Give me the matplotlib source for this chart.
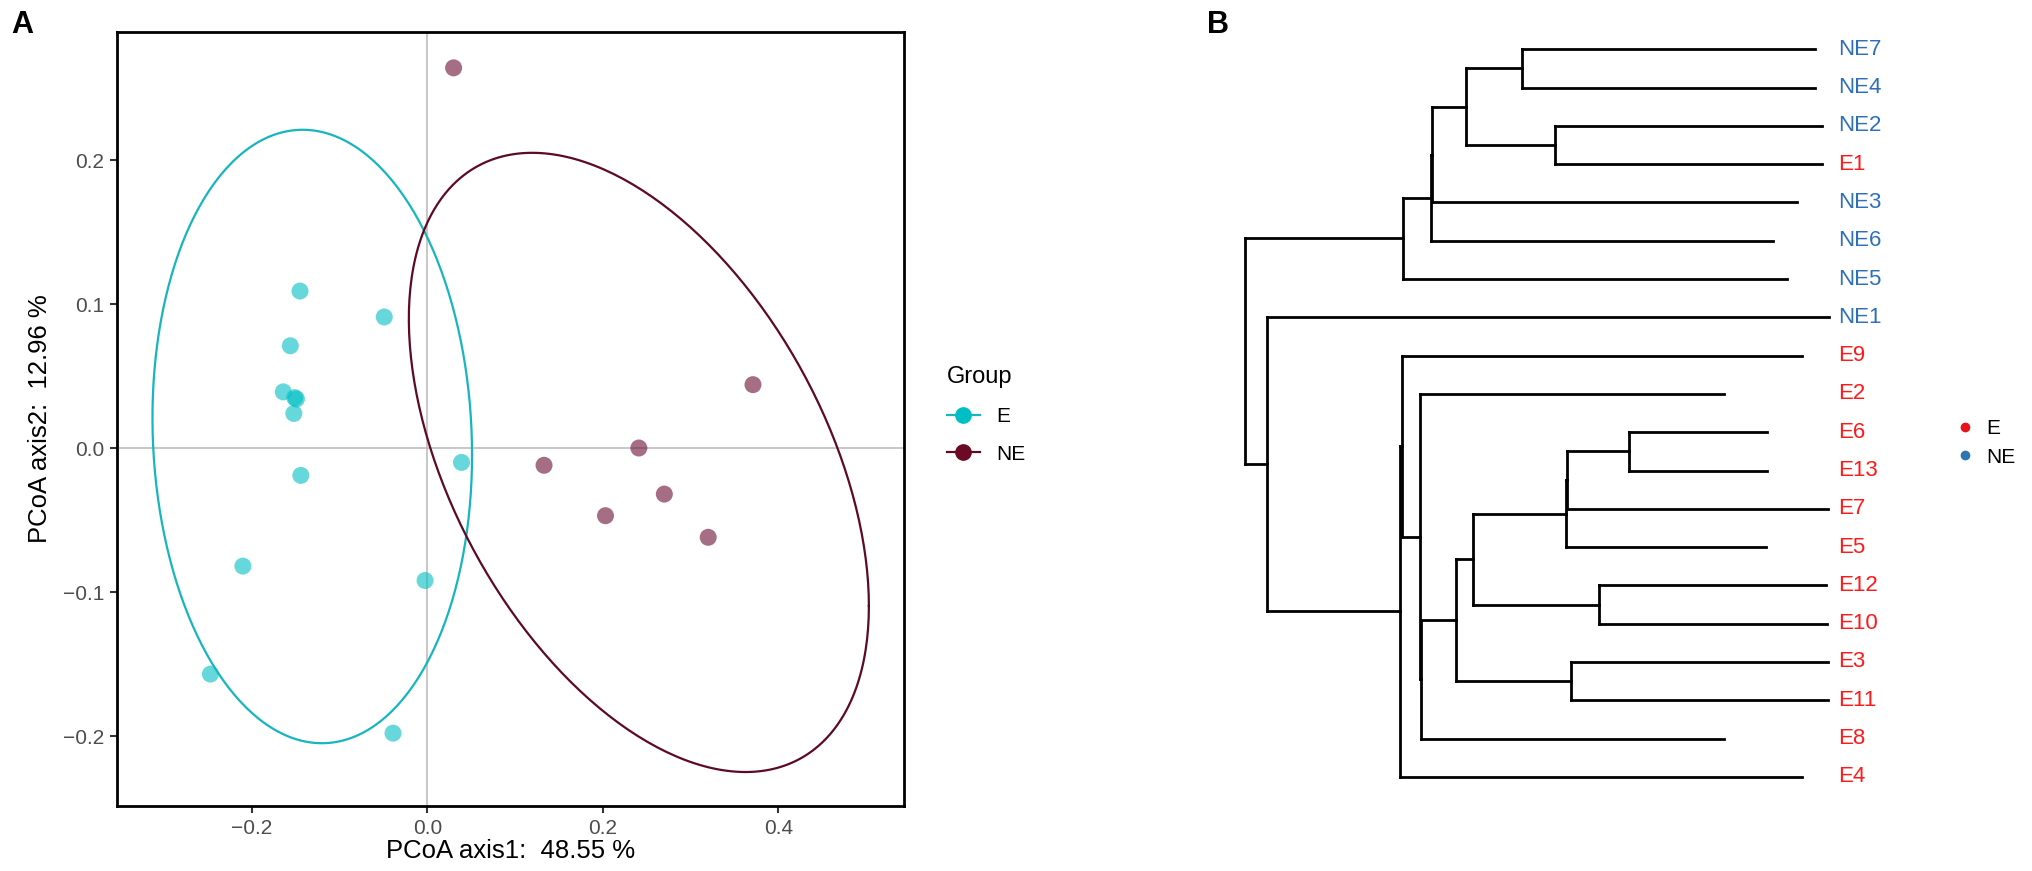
import numpy as np
import matplotlib
matplotlib.use("Agg")
import matplotlib.pyplot as plt
from matplotlib.lines import Line2D

plt.rcParams['font.family'] = ['Liberation Sans', 'DejaVu Sans']

# ---- panel A data (PCoA scores) ----
e_x = [-0.145, -0.049, -0.156, -0.164, -0.151, -0.149, -0.152, -0.144, 0.039, -0.210, -0.0025, -0.247, -0.039]
e_y = [0.109, 0.091, 0.071, 0.039, 0.035, 0.034, 0.024, -0.019, -0.010, -0.082, -0.092, -0.157, -0.198]
ne_x = [0.030, 0.371, 0.241, 0.133, 0.270, 0.203, 0.320]
ne_y = [0.264, 0.044, 0.000, -0.012, -0.032, -0.047, -0.062]

# ellipse read-offs: centre x, centre y, half width, half height, x shift of top point
e_ell = (-0.131, 0.008, 0.182, 0.213, -0.011)
ne_ell = (0.241, -0.010, 0.262, 0.215, -0.1215)

# ---- panel B data (tree) ----
leaves = ["NE7", "NE4", "NE2", "E1", "NE3", "NE6", "NE5", "NE1", "E9", "E2",
          "E6", "E13", "E7", "E5", "E12", "E10", "E3", "E11", "E8", "E4"]
leaf_tip = [0.976, 0.976, 0.988, 0.988, 0.945, 0.904, 0.928, 1.000, 0.954, 0.820,
            0.894, 0.894, 0.998, 0.892, 0.995, 0.997, 0.998, 0.998, 0.820, 0.954]
nodes = [("N1", "NE7", "NE4", 0.474), ("N2", "NE2", "E1", 0.530), ("N3", "N1", "N2", 0.378),
         ("N4", "N3", "NE3", 0.321), ("N5", "N4", "NE6", 0.318), ("N6", "N5", "NE5", 0.271),
         ("M", "E6", "E13", 0.658), ("K1", "M", "E7", 0.552), ("K", "K1", "E5", 0.549),
         ("L", "E12", "E10", 0.606), ("I", "K", "L", 0.390), ("J", "E3", "E11", 0.559),
         ("H", "I", "J", 0.362), ("F1", "H", "E8", 0.302), ("F", "E2", "F1", 0.300),
         ("G", "E9", "F", 0.268), ("Eroot", "G", "E4", 0.266), ("D", "NE1", "Eroot", 0.037),
         ("root", "N6", "D", 0.0)]

cyan = '#00BFC4'
maroon = '#6b0e33'
W, H = 2033, 871

fig = plt.figure(figsize=(W / 100, H / 100), dpi=100)

# ================= panel A =================
ax = fig.add_axes([117 / W, 1 - 806 / H, 787 / W, 774 / H])
ax.set_xlim(-0.3534, 0.543)
ax.set_ylim(-0.2486, 0.2889)
ax.axhline(0, color='#bdbdbd', lw=1.2, zorder=0)
ax.axvline(0, color='#bdbdbd', lw=1.2, zorder=0)


def ellipse_xy(cx, cy, a, r, d):
    t = np.linspace(0, 2 * np.pi, 300)
    b = r * d / a
    c = np.sqrt(r ** 2 - b ** 2)
    return cx + a * np.cos(t), cy + b * np.cos(t) + c * np.sin(t)


ex, ey = ellipse_xy(*e_ell)
ax.plot(ex, ey, color='#17b5bf', lw=1.6, zorder=2)
nx, ny = ellipse_xy(*ne_ell)
ax.plot(nx, ny, color='#5c0a25', lw=1.6, zorder=2)

ax.scatter(e_x, e_y, s=150, color=cyan, alpha=0.6, edgecolors='none', zorder=3)
ax.scatter(ne_x, ne_y, s=150, color=maroon, alpha=0.6, edgecolors='none', zorder=3)

ax.set_xticks([-0.2, 0.0, 0.2, 0.4])
ax.set_yticks([-0.2, -0.1, 0.0, 0.1, 0.2])
ax.set_xticklabels(['\u22120.2', '0.0', '0.2', '0.4'])
ax.set_yticklabels(['\u22120.2', '\u22120.1', '0.0', '0.1', '0.2'])
ax.tick_params(labelsize=15, labelcolor='#4d4d4d', color='#333333', length=5, width=1.5, pad=4)
for sp in ax.spines.values():
    sp.set_linewidth(2)
    sp.set_color('black')

ax.set_xlabel('PCoA axis1:  48.55 %', fontsize=18.5)
ax.set_ylabel('PCoA axis2:  12.96 %', fontsize=18.5)
ax.xaxis.set_label_coords(0.5, -0.042)
ax.yaxis.set_label_coords(-0.082, 0.5)

handles = [Line2D([0], [0], color='#17b5bf', lw=1.6, marker='o', markersize=11, markerfacecolor=cyan,
                  markeredgecolor=cyan),
           Line2D([0], [0], color='#5c0a25', lw=1.6, marker='o', markersize=11, markerfacecolor='#6a0a25',
                  markeredgecolor='#6a0a25')]
leg = ax.legend(handles, ['E', 'NE'], title='Group', loc='center left',
                bbox_to_anchor=(928 / W, 1 - 415 / H), bbox_transform=fig.transFigure,
                frameon=False, fontsize=15, title_fontsize=17, handlelength=1.6,
                handletextpad=0.8, labelspacing=0.9)
leg._legend_box.align = 'left'

fig.text(22 / W, 1 - 25 / H, 'A', fontsize=22, fontweight='bold', ha='center', va='center')
fig.text(1218 / W, 1 - 25 / H, 'B', fontsize=22, fontweight='bold', ha='center', va='center')

# ================= panel B =================
axb = fig.add_axes([1245 / W, 1 - 796 / H, 584 / W, (796 - 30.15) / H])
axb.set_xlim(0, 1)
axb.set_ylim(19.5, -0.5)
axb.axis('off')

xpos = {name: leaf_tip[i] for i, name in enumerate(leaves)}
ypos = {name: i for i, name in enumerate(leaves)}
for name, c1, c2, x in nodes:
    xpos[name] = x
    ypos[name] = (ypos[c1] + ypos[c2]) / 2

for name, c1, c2, x in nodes:
    kw = dict(color='black', lw=2, solid_capstyle='projecting', clip_on=False)
    axb.plot([x, x], [ypos[c1], ypos[c2]], **kw)
    for c in (c1, c2):
        axb.plot([x, xpos[c]], [ypos[c], ypos[c]], **kw)

for i, name in enumerate(leaves):
    col = '#2e6fba' if name.startswith('NE') else '#ff1a1a'
    axb.text(1.0154, i, name, color=col, fontsize=16, ha='left', va='center', clip_on=False)

bh = [Line2D([0], [0], lw=0, marker='o', markersize=6, color='#e8141c'),
      Line2D([0], [0], lw=0, marker='o', markersize=6, color='#2e75b6')]
axb.legend(bh, ['E', 'NE'], loc='center left', bbox_to_anchor=(1938 / W, 1 - 443 / H),
           bbox_transform=fig.transFigure, frameon=False, fontsize=15,
           handlelength=0.8, handletextpad=0.6, labelspacing=0.45)

fig.savefig('out.png', dpi=100)
